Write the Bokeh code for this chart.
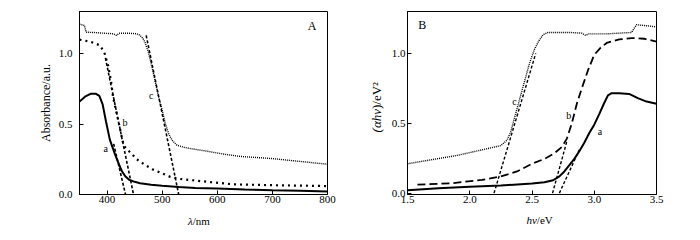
import math
from bokeh.plotting import figure
from bokeh.layouts import row
from bokeh.models import Label, FixedTicker, Range1d
from bokeh.embed import file_html
from bokeh.resources import INLINE

# ---------------- Panel A data (wavelength / nm vs absorbance) ----------------
lam_a = [350, 360, 370, 380, 386, 392, 398, 405, 414, 420, 427, 433, 440, 450, 460,
         480, 500, 530, 560, 600, 650, 700, 750, 800]
abs_a = [0.66, 0.695, 0.715, 0.715, 0.70, 0.64, 0.52, 0.39, 0.29, 0.23, 0.165, 0.13,
         0.105, 0.09, 0.08, 0.07, 0.063, 0.053, 0.047, 0.042, 0.035, 0.03, 0.026, 0.022]

lam_b = [350, 370, 387, 395, 402, 407, 411, 420, 430, 436, 442, 454, 469, 482, 500,
         515, 533, 570, 630, 700, 750, 800]
abs_b = [1.10, 1.085, 1.06, 1.01, 0.915, 0.81, 0.69, 0.53, 0.35, 0.32, 0.30, 0.25,
         0.21, 0.18, 0.15, 0.125, 0.11, 0.095, 0.072, 0.066, 0.063, 0.06]

lam_c = [350, 353, 359, 362, 380, 393, 411, 417, 423, 440, 454, 460, 465, 469, 475,
         481.5, 487.6, 493.7, 500, 506, 512, 518, 527, 540, 552, 582, 613, 643, 674,
         700, 750, 800]
abs_c = [1.21, 1.207, 1.20, 1.153, 1.15, 1.146, 1.142, 1.13, 1.146, 1.145, 1.142,
         1.13, 1.11, 1.08, 1.01, 0.905, 0.80, 0.69, 0.60, 0.50, 0.43, 0.385, 0.35,
         0.335, 0.326, 0.307, 0.286, 0.27, 0.262, 0.255, 0.235, 0.215]

# tangent lines (panel A)
tan_a_x = [412, 433.5]
tan_a_y = [0.36, 0.0]
tan_b_x = [397, 448]
tan_b_y = [0.97, 0.0]
tan_c_x = [471, 530]
tan_c_y = [1.13, 0.0]

# ---------------- Panel B data (photon energy / eV) ----------------
hv_a = [1.5, 1.75, 2.0, 2.25, 2.5, 2.6, 2.67, 2.72, 2.76, 2.8, 2.84, 2.88, 2.92,
        2.96, 3.0, 3.04, 3.08, 3.11, 3.14, 3.2, 3.28, 3.35, 3.42, 3.5]
ahv_a = [0.02, 0.035, 0.045, 0.055, 0.068, 0.078, 0.092, 0.12, 0.155, 0.20, 0.245,
         0.30, 0.36, 0.43, 0.49, 0.565, 0.645, 0.70, 0.715, 0.715, 0.71, 0.68, 0.655,
         0.64]

hv_b = [1.58, 1.85, 2.1, 2.25, 2.38, 2.5, 2.6, 2.68, 2.74, 2.78, 2.82, 2.86, 2.9,
        2.95, 3.0, 3.05, 3.1, 3.2, 3.3, 3.4, 3.5]
ahv_b = [0.06, 0.07, 0.095, 0.12, 0.155, 0.21, 0.245, 0.285, 0.33, 0.39, 0.50, 0.64,
         0.75, 0.88, 0.99, 1.04, 1.075, 1.10, 1.11, 1.105, 1.085]

hv_c = [1.5, 1.7, 1.9, 2.1, 2.25, 2.3, 2.33, 2.36, 2.4, 2.44, 2.48, 2.52, 2.555,
        2.59, 2.63, 2.7, 2.8, 2.9, 2.93, 2.96, 3.0, 3.1, 3.2, 3.3, 3.32, 3.34, 3.4, 3.5]
ahv_c = [0.21, 0.24, 0.27, 0.31, 0.34, 0.38, 0.44, 0.54, 0.67, 0.80, 0.93, 1.03,
         1.09, 1.135, 1.15, 1.15, 1.15, 1.145, 1.13, 1.14, 1.14, 1.14, 1.145, 1.15,
         1.18, 1.205, 1.20, 1.19]

btan_a_x = [2.72, 2.88]
btan_a_y = [0.0, 0.31]
btan_b_x = [2.665, 2.78]
btan_b_y = [0.0, 0.37]
btan_c_x = [2.195, 2.53]
btan_c_y = [0.0, 1.0]

xticks_a = [400, 500, 600, 700, 800]
xticks_b = [1.5, 2.0, 2.5, 3.0, 3.5]
yticks = [0.0, 0.5, 1.0]

SERIF = "Liberation Serif"


def style(p, xticks, xfmt, ystandoff):
    p.xgrid.visible = False
    p.ygrid.visible = False
    p.outline_line_color = "black"
    p.outline_line_width = 1
    p.background_fill_color = "white"
    p.border_fill_color = "white"
    for ax in (p.xaxis[0], p.yaxis[0]):
        ax.axis_line_color = "black"
        ax.axis_line_width = 1
        ax.major_tick_in = 4
        ax.major_tick_out = 0
        ax.minor_tick_line_color = None
        ax.major_tick_line_color = "black"
        ax.major_label_text_font = SERIF
        ax.major_label_text_font_size = "11px"
        ax.major_label_text_color = "black"
    p.xaxis[0].ticker = FixedTicker(ticks=xticks)
    p.xaxis[0].major_label_overrides = {t: xfmt(t) for t in xticks}
    p.xaxis[0].major_label_standoff = 1
    p.yaxis[0].ticker = FixedTicker(ticks=yticks)
    p.yaxis[0].major_label_overrides = {t: f"{t:.1f}" for t in yticks}
    p.yaxis[0].major_label_standoff = ystandoff


def mk(x, y, text, size="10px", style_="normal", align="center",
       baseline="middle", angle=0.0):
    return Label(x=x, y=y, text=text, text_font=SERIF, text_font_size=size,
                 text_font_style=style_, text_align=align,
                 text_baseline=baseline, angle=angle, text_color="black")


# ---------------- Figure A ----------------
pA = figure(width=350, height=240, output_backend="svg", toolbar_location=None,
            x_range=Range1d(350, 800), y_range=Range1d(0, 1.30),
            min_border_left=79, min_border_right=23, min_border_top=11,
            min_border_bottom=46)
style(pA, xticks_a, lambda t: f"{int(t)}", 7)
pA.yaxis[0].axis_label = "Absorbance/a.u."
pA.yaxis[0].axis_label_text_font = SERIF
pA.yaxis[0].axis_label_text_font_size = "12px"
pA.yaxis[0].axis_label_text_font_style = "normal"
pA.yaxis[0].axis_label_text_color = "black"
pA.yaxis[0].axis_label_standoff = 3

pA.line(lam_c, abs_c, line_color="black", line_width=1.4, line_dash="1 1")
pA.line(lam_b, abs_b, line_color="black", line_width=2.2, line_dash="2 4")
pA.line(lam_a, abs_a, line_color="black", line_width=2)
pA.line(tan_a_x, tan_a_y, line_color="black", line_width=1.6, line_dash="3 2")
pA.line(tan_b_x, tan_b_y, line_color="black", line_width=1.6, line_dash="3 2")
pA.line(tan_c_x, tan_c_y, line_color="black", line_width=1.6, line_dash="3 2")

pA.add_layout(mk(397.5, 0.33, "a"))
pA.add_layout(mk(432.5, 0.51, "b"))
pA.add_layout(mk(480, 0.705, "c"))
pA.add_layout(mk(772, 1.20, "A", size="12px"))

# x-axis label pieces placed in a side panel so that they are not clipped
pA.add_layout(mk(555.5, -0.185, "λ", size="11px", style_="italic", align="right"), "left")
pA.add_layout(mk(555.5, -0.185, "/nm", size="11px", align="left"), "left")

# ---------------- Figure B ----------------
pB = figure(width=350, height=240, output_backend="svg", toolbar_location=None,
            x_range=Range1d(1.5, 3.5), y_range=Range1d(-0.01, 1.30),
            min_border_left=57, min_border_right=44, min_border_top=11,
            min_border_bottom=46)
style(pB, xticks_b, lambda t: f"{t:.1f}", 2)

pB.line(hv_c, ahv_c, line_color="black", line_width=1.4, line_dash="1 1")
pB.line(hv_b, ahv_b, line_color="black", line_width=1.8, line_dash="8 4")
pB.line(hv_a, ahv_a, line_color="black", line_width=2)
pB.line(btan_a_x, btan_a_y, line_color="black", line_width=1.4, line_dash="3 2")
pB.line(btan_b_x, btan_b_y, line_color="black", line_width=1.4, line_dash="3 2")
pB.line(btan_c_x, btan_c_y, line_color="black", line_width=1.4, line_dash="3 2")

pB.add_layout(mk(3.045, 0.44, "a"))
pB.add_layout(mk(2.796, 0.555, "b"))
pB.add_layout(mk(2.36, 0.655, "c"))
pB.add_layout(mk(1.618, 1.20, "B", size="12px"))

# axis label pieces (side panels, so that they are not clipped by the frame)
pB.add_layout(mk(1.251, 0.602, "(αhν", size="13px", style_="italic", align="right",
                 angle=math.pi / 2), "right")
pB.add_layout(mk(1.251, 0.602, ")/eV²", size="13px", align="left",
                 angle=math.pi / 2), "right")
pB.add_layout(mk(2.539, -0.195, "hν", size="11px", style_="italic", align="right"), "below")
pB.add_layout(mk(2.539, -0.195, "/eV", size="11px", align="left"), "left")

layout = row(pA, pB, spacing=0)
open("out.html", "w").write(file_html(layout, INLINE))
